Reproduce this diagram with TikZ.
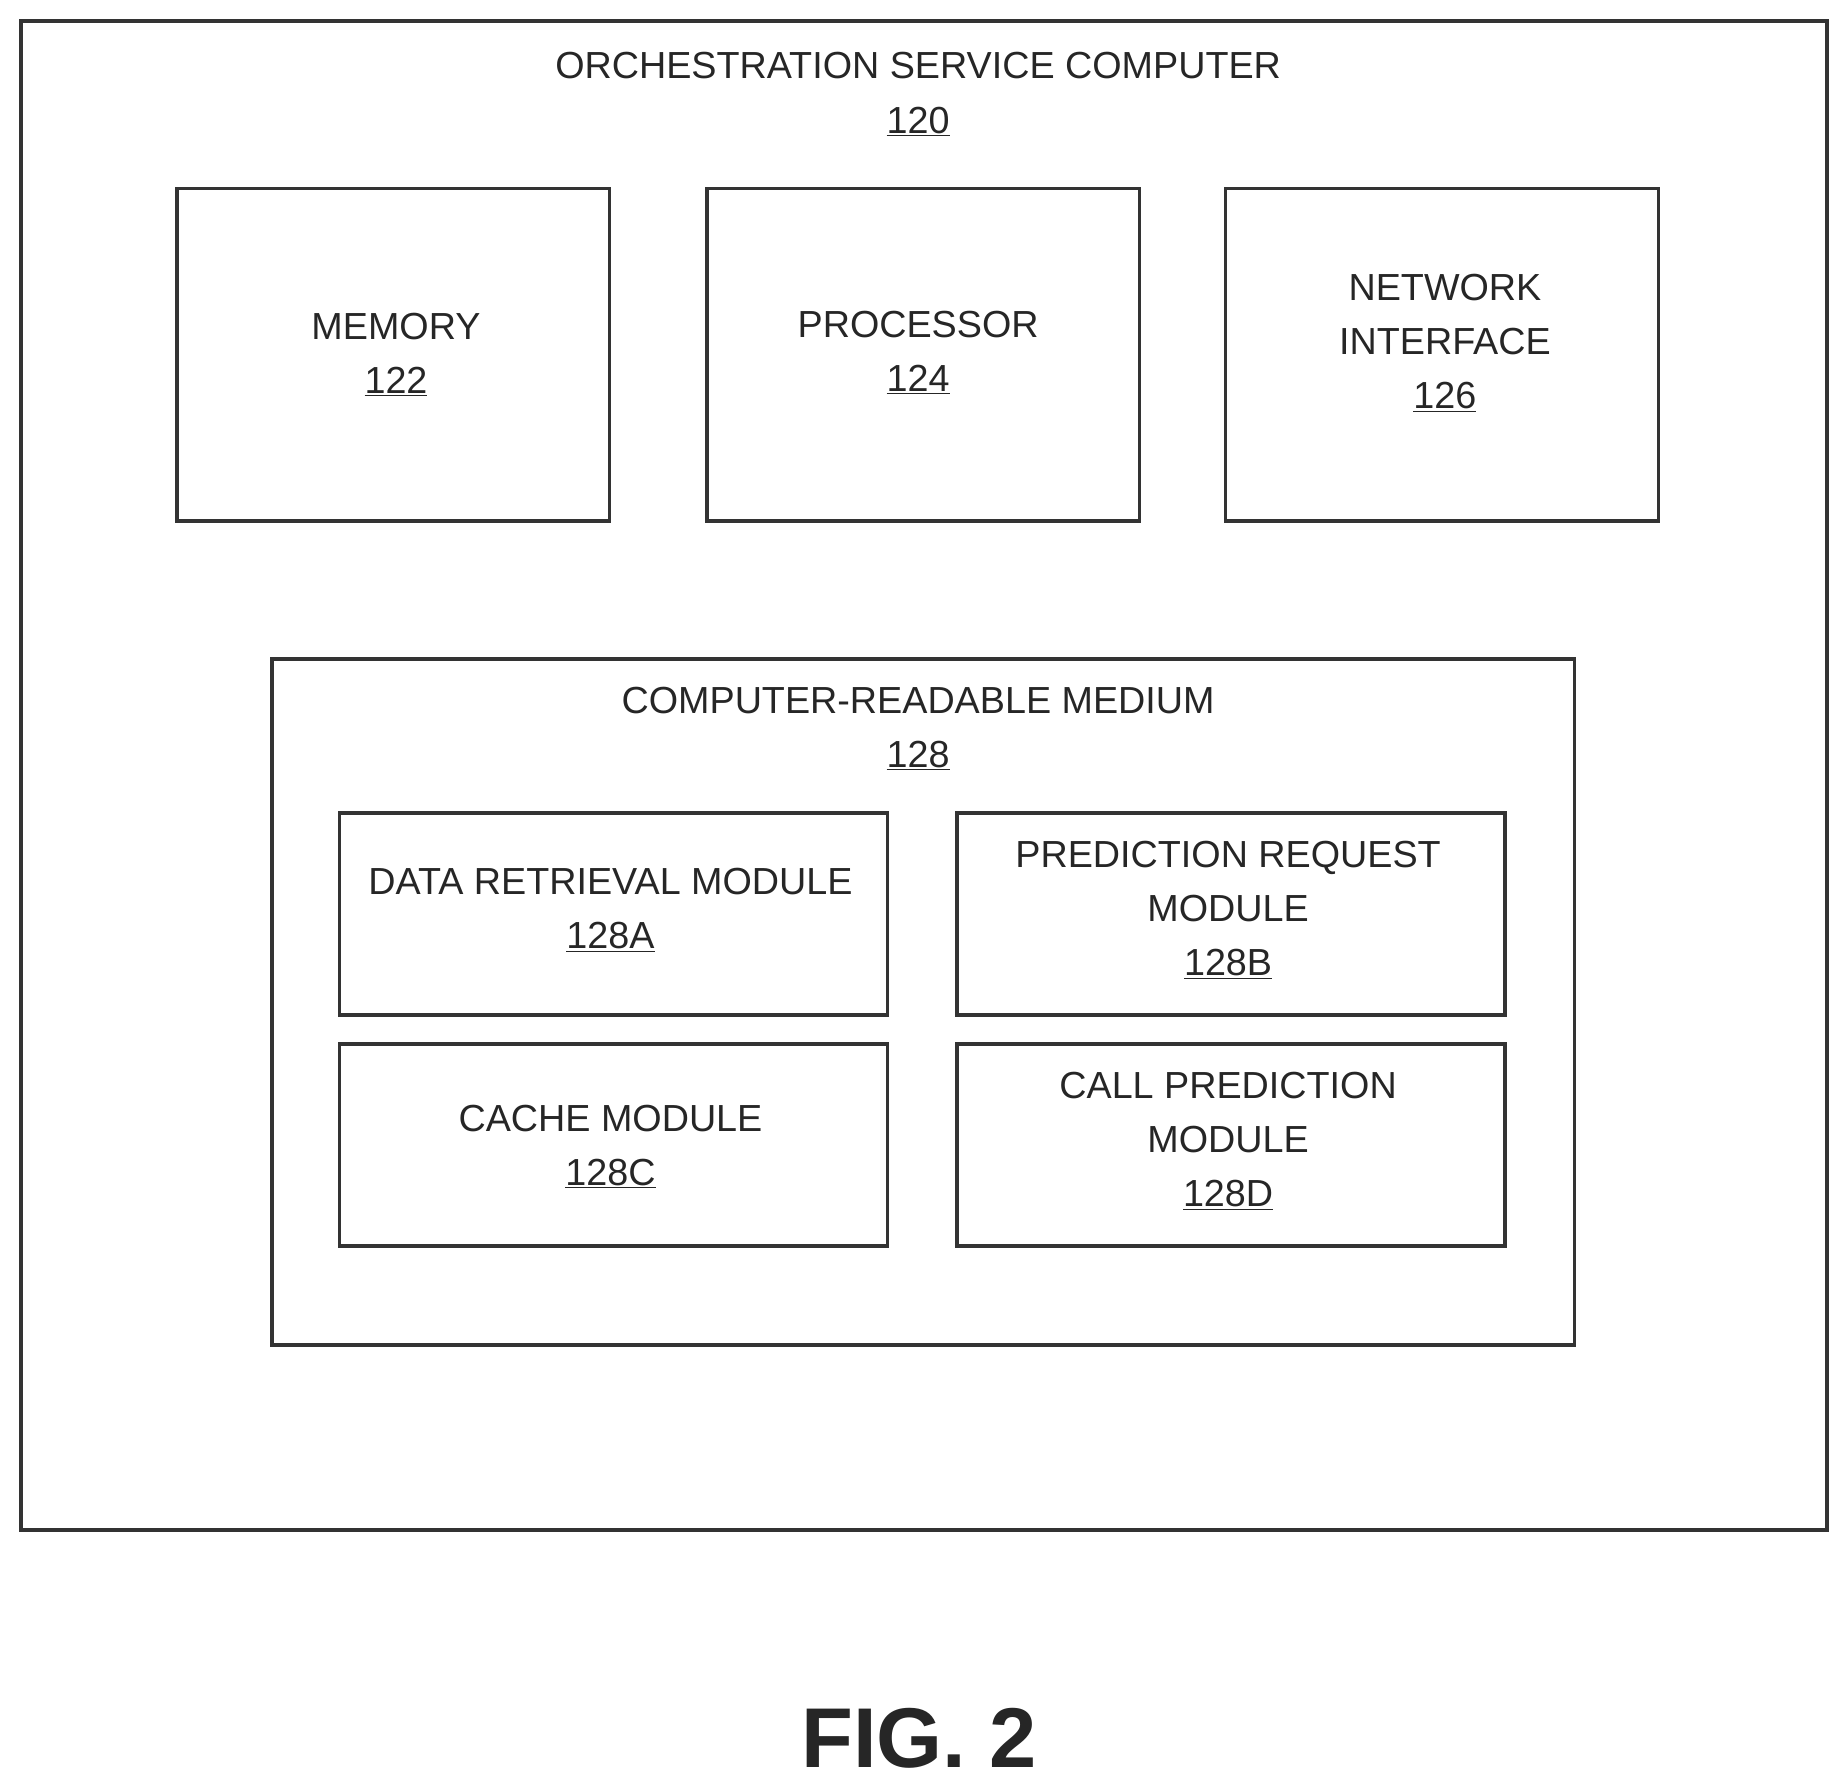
\documentclass[tikz,border=0pt]{standalone}
\usepackage{fontspec}
\setmainfont{Liberation Sans}
\begin{document}
\begin{tikzpicture}[x=1pt,y=-1pt,
  box/.style={draw=black!80,line width=3pt},
  lbl/.style={align=center,font=\fontsize{32}{46}\selectfont,text=black!85}]
\useasboundingbox (0,0) rectangle (1568,1520);
\newcommand{\ul}[1]{\underline{#1}}
\draw[box] (18,18) rectangle (1550,1298);
\node[lbl] (t) at (779,80) {ORCHESTRATION SERVICE COMPUTER\\\ul{120}};
\draw[box] (150,160) rectangle (517,442);
\node[lbl] (m) at (336,301) {MEMORY\\\ul{122}};
\draw[box] (600,160) rectangle (967,442);
\node[lbl] (p) at (779,299) {PROCESSOR\\\ul{124}};
\draw[box] (1040,160) rectangle (1407,442);
\node[lbl] (n) at (1226,291) {NETWORK\\INTERFACE\\\ul{126}};
\draw[box] (231,559) rectangle (1336,1141);
\node[lbl] (c) at (779,618) {COMPUTER-READABLE MEDIUM\\\ul{128}};
\draw[box] (288,690) rectangle (753,861);
\node[lbl] (a) at (518,772) {DATA RETRIEVAL MODULE\\\ul{128A}};
\draw[box] (812,690) rectangle (1277,861);
\node[lbl] (b) at (1042,772) {PREDICTION REQUEST\\MODULE\\\ul{128B}};
\draw[box] (288,886) rectangle (753,1057);
\node[lbl] (cc) at (518,973) {CACHE MODULE\\\ul{128C}};
\draw[box] (812,886) rectangle (1277,1057);
\node[lbl] (d) at (1042,968) {CALL PREDICTION\\MODULE\\\ul{128D}};
\node[font=\fontsize{72}{80}\selectfont\bfseries,text=black!85] (f) at (780,1475) {FIG. 2};
\end{tikzpicture}
\end{document}
